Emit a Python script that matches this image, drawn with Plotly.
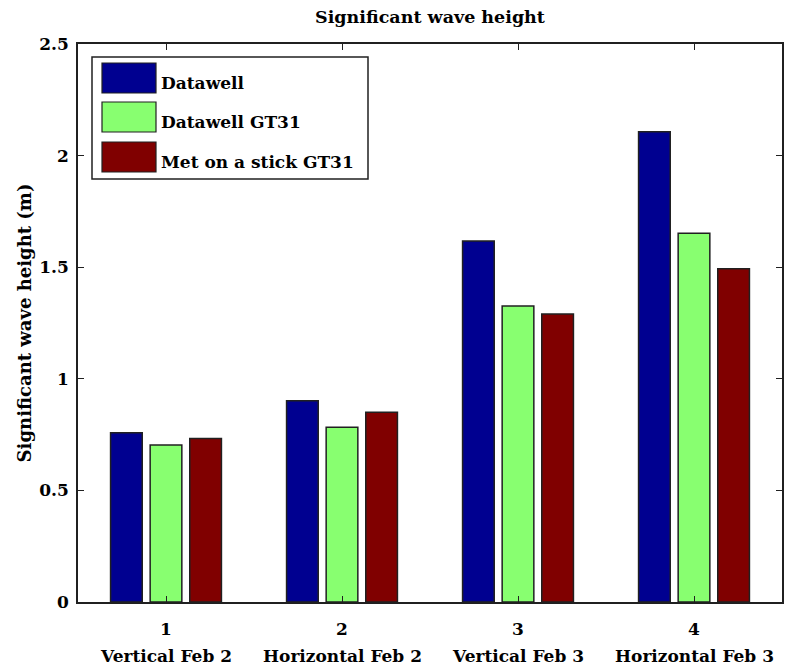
import plotly.graph_objects as go

categories = [1, 2, 3, 4]
category_names = ["Vertical Feb 2", "Horizontal Feb 2", "Vertical Feb 3", "Horizontal Feb 3"]
series_names = ["Datawell", "Datawell GT31", "Met on a stick GT31"]
datawell = [0.758, 0.902, 1.617, 2.107]
datawell_gt31 = [0.703, 0.783, 1.326, 1.652]
met_stick_gt31 = [0.733, 0.850, 1.290, 1.493]
series_values = [datawell, datawell_gt31, met_stick_gt31]
colors = ["#000090", "#88FF70", "#800000"]
y_ticks = [0, 0.5, 1, 1.5, 2, 2.5]
y_tick_labels = ["0", "0.5", "1", "1.5", "2", "2.5"]

OFF = 8  # default page body margin
W, H = 795 - OFF, 670 - OFF
# plot area in page pixels
L, R, T, B = 78, 782, 44, 602
FONT = "DejaVu Serif"
FS = 17


def px(xp):
    return (xp - L) / (R - L)


def py(yp):
    return (B - yp) / (B - T)


def f(size=FS):
    return dict(family=FONT, size=size, color="black", weight="bold")


fig = go.Figure()
for name, vals, col in zip(series_names, series_values, colors):
    fig.add_trace(go.Bar(
        x=categories, y=vals, name=name,
        marker=dict(color=col, line=dict(color="#202020", width=1.5)),
        showlegend=False,
    ))

shapes = []
annotations = []
# custom legend box
shapes.append(dict(type="rect", xref="paper", yref="paper",
                   x0=px(92), x1=px(368), y0=py(179), y1=py(57),
                   line=dict(color="#202020", width=1.5), fillcolor="white", layer="above"))
sw_tops = [63, 102, 142]
for i, (name, col) in enumerate(zip(series_names, colors)):
    t = sw_tops[i]
    shapes.append(dict(type="rect", xref="paper", yref="paper",
                       x0=px(102), x1=px(156), y0=py(t + 30), y1=py(t),
                       line=dict(color="#202020", width=1.2), fillcolor=col, layer="above"))
    annotations.append(dict(text=name, xref="paper", yref="paper",
                            x=px(159), y=py(t + 20), xanchor="left", yanchor="middle",
                            showarrow=False, font=f(FS)))

for c, nm in zip(categories, category_names):
    annotations.append(dict(text=nm, xref="x", yref="paper", x=c, y=py(656),
                            xanchor="center", yanchor="middle", showarrow=False,
                            font=f(FS)))

fig.update_layout(
    width=W, height=H,
    margin=dict(l=L - OFF, r=W - (R - OFF), t=T - OFF, b=H - (B - OFF), pad=0, autoexpand=False),
    paper_bgcolor="white", plot_bgcolor="white",
    barmode="group", bargap=0.325, bargroupgap=0.2,
    title=dict(text="Significant wave height", x=px(430), xref="paper", xanchor="center",
               y=1 - (17 - OFF) / H, yanchor="middle", font=f(17.5)),
    font=f(FS),
    shapes=shapes, annotations=annotations,
)
fig.update_xaxes(range=[0.5, 4.5], tickvals=categories, ticktext=[str(c) for c in categories],
                 ticks="inside", ticklen=6, tickwidth=1, tickcolor="#202020",
                 showline=True, linecolor="#202020", linewidth=1.5, mirror="ticks",
                 showgrid=False, zeroline=False, ticklabelstandoff=11, automargin=False,
                 tickfont=f(FS))
fig.update_yaxes(range=[0, 2.5], tickvals=y_ticks, ticktext=y_tick_labels,
                 ticks="inside", ticklen=6, tickwidth=1, tickcolor="#202020",
                 showline=True, linecolor="#202020", linewidth=1.5, mirror="ticks",
                 showgrid=False, zeroline=False, ticklabelstandoff=4, automargin=False,
                 tickfont=f(FS),
                 title=dict(text="Significant wave height (m)", standoff=3, font=f(18)))

fig.write_html("out.html")
